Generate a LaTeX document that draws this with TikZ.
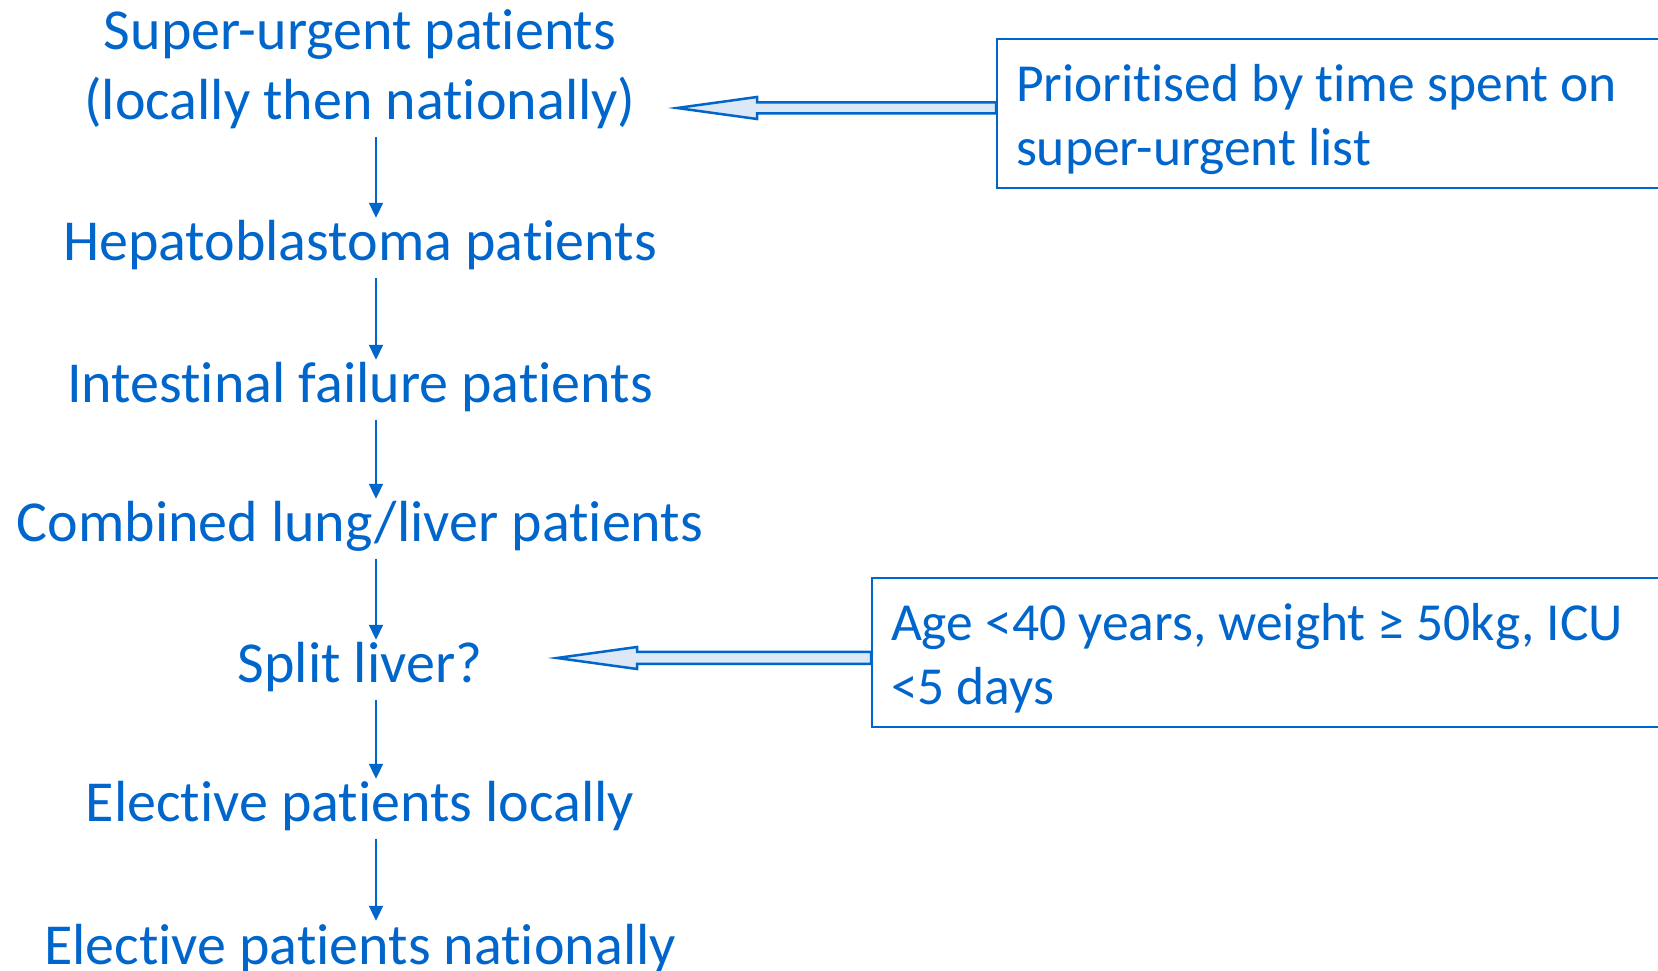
\documentclass[tikz,border=0pt]{standalone}
\usepackage{fontspec}
\setmainfont{Carlito}[Ligatures=CommonOff]
\usetikzlibrary{arrows.meta,calc}

\definecolor{listblue}{RGB}{0,102,204}
\definecolor{arrowfill}{RGB}{220,232,246}

\tikzset{
  stage/.style = {text=listblue, inner sep=0pt, align=center,
    font=\fontsize{58}{70}\selectfont, text height=43pt, text depth=17pt},
  flow/.style = {draw=listblue, line width=2pt, -{Triangle[width=14pt,length=15pt]}},
  note/.style = {draw=listblue, line width=2pt, text=listblue, anchor=north west,
    align=flush left, inner xsep=19pt, text width=760pt, minimum height=149pt,
    text height=48.5pt, font=\fontsize{53.5}{64}\selectfont},
  fatarrow/.style = {draw=listblue, line width=2.5pt, fill=arrowfill, line join=miter}
}

\begin{document}
\begin{tikzpicture}[x=1pt, y=1pt]
  \clip (0,0) rectangle (1658,970);
  \fill[white] (0,0) rectangle (1658,970);

  % the order in which patients are offered a liver
  \node[stage] (sup)   at (360,863) {Super-urgent patients\\(locally then nationally)};
  \node[stage] (hep)   at (360,722) {Hepatoblastoma patients};
  \node[stage] (int)   at (360,580) {Intestinal failure patients};
  \node[stage] (comb)  at (360,441) {Combined lung/liver patients};
  \node[stage] (split) at (360,300) {Split liver?};
  \node[stage] (eloc)  at (360,161) {Elective patients locally};
  \node[stage] (enat)  at (360,19)  {Elective patients nationally};

  \coordinate (arrx) at (376,0);
  \foreach \a/\b in {sup/hep, hep/int, int/comb, comb/split, split/eloc, eloc/enat}
    \draw[flow] (\a.south -| arrx) -- (\b.north -| arrx);

  % side notes
  \node[note] (note1) at (996,932) {Prioritised by time spent on\\super-urgent list};
  \node[note] (note2) at (871,393) {Age <40 years, weight ≥ 50kg, ICU\\<5 days};

  \coordinate (tip1) at (677,862);
  \coordinate (tip2) at (557,312);
  \draw[fatarrow] (tip1) -- ++(80,11) -- ++(0,-5.5) -- ([yshift=5.5]tip1 -| note1.west)
    -- ([yshift=-5.5]tip1 -| note1.west) -- ([shift={(80,-5.5)}]tip1) -- ++(0,-5.5) -- cycle;
  \draw[fatarrow] (tip2) -- ++(80,11) -- ++(0,-5) -- ([yshift=6]tip2 -| note2.west)
    -- ([yshift=-6]tip2 -| note2.west) -- ([shift={(80,-6)}]tip2) -- ++(0,-5) -- cycle;
\end{tikzpicture}
\end{document}
